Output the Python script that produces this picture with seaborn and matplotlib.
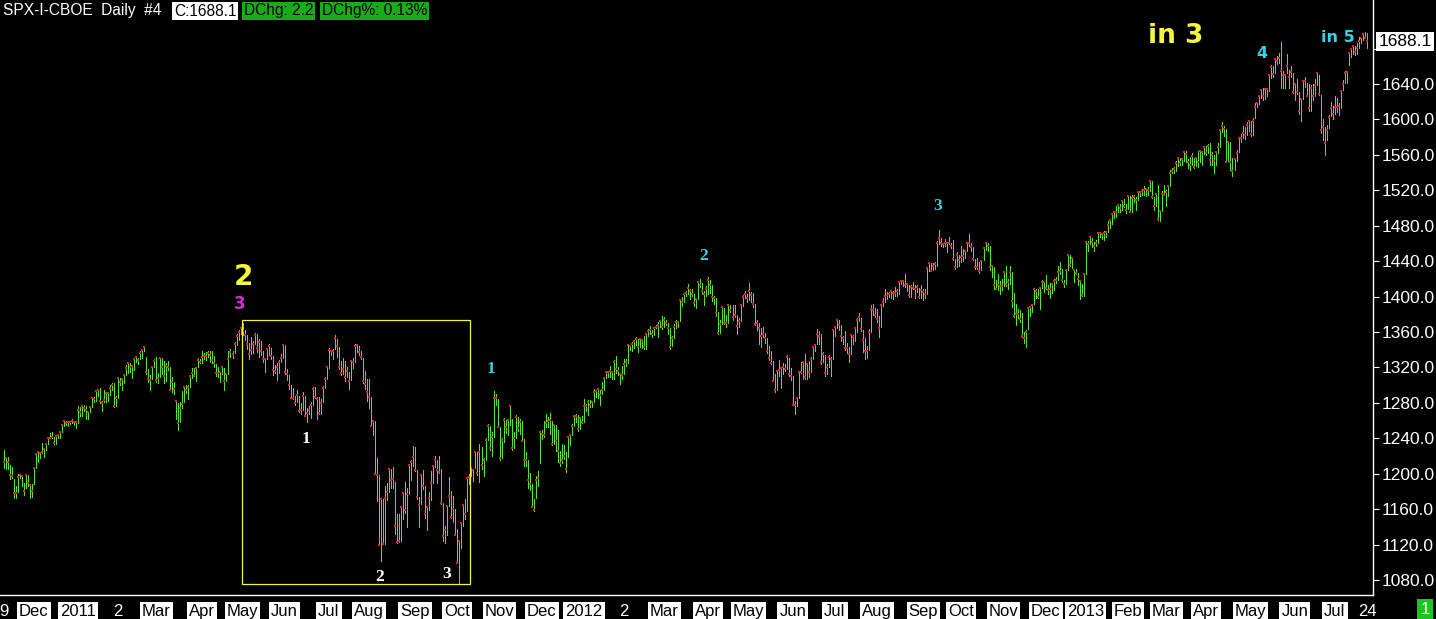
import numpy as np
import pandas as pd
import matplotlib
matplotlib.use("Agg")
import matplotlib.pyplot as plt
import seaborn as sns
from matplotlib.patches import Rectangle

# ---------------- data (SPX daily, Nov 9 2010 - Jul 24 2013), one list per month ----------------
month_labels = ["9", "Dec", "2011", "2", "Mar", "Apr", "May", "Jun", "Jul", "Aug", "Sep", "Oct", "Nov", "Dec",
                "2012", "2", "Mar", "Apr", "May", "Jun", "Jul", "Aug", "Sep", "Oct", "Nov", "Dec",
                "2013", "Feb", "Mar", "Apr", "May", "Jun", "Jul"]
last_label = "24"

close_m = [
    [1213,1218,1213,1199,1197,1178,1178,1196,1199,1197,1180,1198,1189,1187,1181],
    [1206,1222,1225,1223,1224,1228,1233,1240,1240,1242,1235,1243,1244,1247,1255,1259,1257,1258,1258,1260,1258,1258],
    [1272,1270,1277,1274,1272,1270,1275,1286,1284,1293,1295,1282,1280,1283,1291,1291,1297,1300,1276,1286],
    [1308,1304,1307,1311,1319,1325,1321,1322,1329,1332,1328,1336,1340,1343,1315,1307,1306,1320,1327],
    [1306,1308,1331,1321,1310,1322,1320,1295,1304,1296,1282,1257,1274,1279,1298,1294,1298,1310,1314,1310,1319,1328,1326],
    [1332,1333,1333,1336,1334,1328,1325,1314,1314,1315,1320,1305,1313,1330,1337,1335,1347,1356,1360,1364],
    [1361,1357,1347,1335,1340,1346,1357,1342,1349,1338,1330,1329,1341,1344,1333,1317,1316,1321,1326,1331,1345],
    [1315,1313,1300,1286,1285,1280,1289,1271,1272,1288,1265,1268,1272,1278,1296,1287,1284,1269,1280,1297,1307,1321],
    [1340,1338,1339,1353,1344,1320,1314,1318,1309,1316,1305,1327,1326,1344,1345,1337,1332,1305,1301,1292],
    [1287,1254,1260,1200,1199,1120,1172,1121,1173,1179,1205,1193,1194,1141,1123,1124,1162,1178,1159,1177,1210,1213,1219],
    [1204,1174,1165,1199,1186,1154,1162,1173,1189,1209,1216,1204,1202,1167,1130,1136,1163,1175,1151,1160,1131],
    [1099,1124,1144,1165,1155,1195,1196,1207,1204,1225,1201,1225,1210,1215,1238,1254,1229,1242,1285,1285,1253],
    [1218,1238,1261,1253,1261,1276,1229,1240,1264,1252,1258,1237,1216,1216,1193,1188,1162,1159,1193,1195,1247],
    [1245,1244,1257,1259,1261,1234,1255,1237,1226,1212,1216,1220,1205,1241,1244,1254,1265,1265,1250,1263,1258],
    [1277,1277,1281,1278,1281,1292,1293,1296,1289,1294,1308,1315,1315,1316,1315,1326,1318,1316,1313,1312],
    [1324,1326,1345,1344,1347,1350,1352,1343,1352,1351,1343,1358,1361,1362,1358,1364,1366,1368,1372,1366],
    [1374,1370,1364,1343,1353,1366,1371,1371,1396,1394,1403,1404,1410,1406,1403,1393,1397,1417,1413,1406,1403,1409],
    [1419,1413,1399,1398,1382,1359,1369,1388,1370,1370,1391,1385,1377,1379,1367,1372,1391,1400,1403,1398],
    [1406,1402,1392,1369,1370,1364,1355,1358,1353,1338,1331,1325,1305,1295,1316,1317,1319,1321,1318,1332,1313,1310],
    [1278,1278,1286,1315,1315,1326,1309,1324,1315,1329,1343,1345,1358,1356,1326,1335,1314,1320,1332,1329,1362],
    [1366,1374,1368,1355,1353,1342,1342,1335,1357,1354,1364,1373,1377,1363,1351,1338,1338,1360,1386,1385,1379],
    [1375,1365,1391,1394,1401,1402,1403,1406,1404,1404,1406,1416,1418,1418,1413,1414,1402,1411,1410,1409,1411,1400,1407],
    [1405,1403,1432,1438,1429,1434,1437,1460,1466,1461,1459,1461,1460,1460,1457,1442,1433,1447,1441],
    [1445,1446,1451,1461,1461,1456,1442,1433,1433,1429,1440,1455,1461,1457,1433,1434,1413,1409,1413,1412,1412],
    [1428,1414,1417,1428,1395,1378,1380,1380,1375,1356,1353,1360,1387,1388,1391,1409,1406,1399,1410,1416,1416],
    [1410,1407,1409,1414,1418,1419,1428,1429,1419,1414,1430,1447,1436,1444,1430,1427,1420,1418,1402,1426],
    [1462,1459,1467,1462,1457,1461,1472,1472,1471,1472,1473,1481,1486,1493,1495,1495,1503,1500,1508,1502,1498],
    [1513,1496,1511,1512,1509,1518,1518,1519,1520,1521,1520,1531,1512,1502,1516,1488,1497,1516,1515],
    [1518,1525,1540,1542,1544,1551,1556,1552,1555,1563,1561,1552,1548,1559,1546,1557,1552,1564,1563,1569],
    [1562,1570,1554,1560,1553,1563,1569,1588,1593,1589,1552,1575,1552,1542,1555,1562,1579,1579,1585,1582,1594,1598],
    [1583,1598,1614,1618,1626,1633,1627,1634,1634,1650,1659,1651,1668,1666,1669,1655,1650,1650,1660,1648,1654,1631],
    [1640,1631,1609,1623,1643,1643,1626,1613,1636,1627,1639,1652,1629,1588,1592,1573,1588,1603,1613,1606],
    [1614,1614,1615,1632,1640,1652,1653,1675,1680,1683,1676,1681,1689,1692,1696,1692,1688.1],
]

high_m = [
    [1227,1219,1219,1210,1208,1194,1186,1200,1200,1199,1190,1198,1198,1188,1188],
    [1207,1222,1225,1225,1235,1229,1234,1241,1246,1247,1242,1244,1245,1248,1255,1259,1260,1258,1260,1262,1260,1260],
    [1276,1275,1278,1278,1276,1271,1277,1287,1287,1294,1296,1297,1282,1294,1291,1292,1300,1302,1302,1288],
    [1308,1308,1308,1311,1323,1325,1325,1322,1330,1333,1331,1338,1341,1344,1332,1318,1311,1320,1330],
    [1332,1314,1332,1331,1327,1325,1327,1320,1309,1304,1282,1280,1281,1293,1299,1300,1300,1311,1319,1319,1320,1331,1330],
    [1338,1336,1337,1339,1338,1339,1333,1324,1321,1316,1321,1319,1314,1338,1341,1338,1349,1358,1362,1365],
    [1370,1362,1357,1348,1354,1350,1359,1358,1352,1350,1339,1330,1341,1347,1342,1333,1323,1325,1328,1335,1345],
    [1345,1318,1312,1300,1297,1288,1294,1288,1280,1292,1288,1274,1277,1281,1298,1298,1287,1287,1284,1299,1309,1321],
    [1342,1340,1341,1357,1352,1343,1327,1331,1327,1320,1315,1328,1331,1347,1347,1344,1339,1331,1316,1307],
    [1307,1287,1261,1260,1218,1199,1173,1172,1186,1190,1205,1205,1208,1191,1154,1154,1162,1179,1191,1184,1211,1215,1231],
    [1230,1204,1174,1199,1204,1186,1163,1179,1203,1209,1220,1216,1220,1205,1167,1141,1164,1196,1180,1175,1160],
    [1138,1125,1146,1165,1171,1195,1200,1208,1205,1225,1224,1233,1230,1218,1240,1256,1254,1247,1293,1290,1284],
    [1253,1240,1263,1261,1262,1277,1262,1247,1266,1264,1262,1259,1239,1225,1215,1201,1188,1172,1197,1203,1247],
    [1249,1260,1267,1264,1268,1260,1256,1255,1249,1226,1234,1232,1224,1242,1245,1256,1265,1267,1266,1264,1265],
    [1284,1279,1283,1283,1282,1296,1294,1297,1295,1303,1308,1316,1316,1322,1315,1328,1333,1320,1314,1322],
    [1330,1330,1346,1345,1349,1351,1354,1352,1352,1351,1356,1359,1363,1367,1362,1364,1368,1371,1373,1378],
    [1377,1374,1370,1364,1355,1369,1374,1372,1396,1400,1403,1406,1414,1409,1408,1403,1398,1417,1420,1415,1406,1412],
    [1422,1419,1413,1401,1398,1383,1374,1388,1387,1379,1392,1391,1390,1390,1379,1376,1391,1402,1406,1403],
    [1415,1405,1404,1392,1373,1370,1365,1366,1359,1353,1344,1339,1327,1313,1316,1328,1320,1325,1324,1334,1331,1319],
    [1310,1282,1287,1315,1326,1326,1335,1324,1327,1332,1343,1346,1363,1361,1358,1337,1334,1324,1334,1332,1363],
    [1366,1374,1373,1368,1355,1361,1348,1343,1358,1357,1366,1376,1381,1376,1362,1353,1344,1363,1390,1392,1387],
    [1386,1378,1392,1398,1408,1405,1405,1406,1406,1411,1408,1416,1419,1418,1426,1415,1413,1413,1416,1413,1413,1410,1413],
    [1409,1408,1433,1438,1438,1438,1439,1463,1475,1466,1461,1465,1461,1467,1460,1464,1442,1450,1447],
    [1457,1454,1452,1462,1471,1460,1456,1442,1443,1439,1441,1455,1462,1461,1457,1435,1433,1419,1425,1418,1420],
    [1429,1434,1420,1434,1428,1404,1392,1386,1385,1381,1360,1362,1387,1389,1391,1409,1409,1409,1410,1419,1418],
    [1424,1413,1415,1415,1420,1422,1435,1439,1431,1419,1430,1448,1447,1444,1430,1431,1427,1419,1414,1427],
    [1463,1463,1467,1466,1462,1464,1472,1473,1472,1474,1474,1485,1486,1493,1496,1502,1503,1504,1509,1510,1504],
    [1514,1513,1515,1515,1512,1518,1518,1522,1525,1523,1524,1531,1530,1512,1516,1526,1498,1519,1526],
    [1520,1525,1543,1545,1546,1553,1556,1557,1556,1564,1564,1555,1558,1562,1556,1558,1564,1564,1564,1570],
    [1570,1572,1573,1563,1560,1563,1573,1589,1597,1593,1589,1575,1575,1556,1555,1565,1579,1584,1593,1592,1597,1598],
    [1598,1602,1619,1619,1626,1633,1635,1634,1636,1651,1661,1660,1668,1672,1675,1687,1655,1651,1674,1656,1660,1652],
    [1640,1646,1631,1623,1644,1648,1641,1640,1639,1640,1646,1654,1650,1628,1601,1592,1594,1605,1620,1615],
    [1626,1624,1619,1633,1645,1655,1655,1676,1681,1684,1683,1686,1693,1693,1697,1699,1698],
]

low_m = [
    [1206,1205,1205,1194,1195,1173,1173,1179,1195,1186,1176,1184,1186,1173,1174],
    [1188,1206,1213,1218,1223,1219,1227,1233,1240,1240,1234,1234,1240,1240,1247,1254,1255,1254,1256,1257,1255,1252],
    [1257,1265,1265,1271,1262,1262,1270,1275,1281,1282,1288,1280,1271,1281,1281,1282,1289,1294,1275,1276],
    [1286,1300,1295,1302,1311,1314,1315,1308,1317,1326,1324,1329,1331,1338,1313,1303,1294,1307,1320],
    [1303,1302,1309,1313,1302,1305,1317,1294,1292,1290,1262,1249,1258,1274,1281,1291,1284,1298,1308,1310,1305,1320,1325],
    [1325,1329,1328,1332,1326,1325,1321,1310,1309,1303,1313,1295,1305,1313,1332,1331,1336,1345,1351,1358],
    [1357,1351,1341,1330,1335,1336,1346,1337,1332,1334,1326,1315,1330,1334,1330,1311,1314,1306,1314,1326,1331],
    [1313,1306,1296,1285,1284,1278,1281,1270,1267,1272,1265,1258,1267,1263,1278,1286,1262,1267,1267,1281,1297,1307],
    [1319,1334,1330,1341,1332,1318,1312,1313,1305,1309,1296,1306,1319,1326,1337,1334,1329,1302,1296,1282],
    [1274,1254,1244,1200,1169,1119,1101,1121,1121,1170,1179,1184,1184,1132,1122,1123,1124,1149,1156,1140,1177,1193,1209],
    [1203,1171,1140,1166,1183,1150,1136,1159,1170,1190,1208,1190,1201,1166,1124,1122,1131,1163,1150,1145,1131],
    [1099,1075,1116,1141,1149,1158,1188,1197,1192,1207,1198,1191,1205,1197,1216,1238,1227,1220,1242,1278,1253],
    [1215,1218,1236,1246,1244,1255,1227,1229,1240,1248,1245,1237,1209,1209,1184,1182,1162,1158,1173,1186,1212],
    [1239,1242,1253,1253,1245,1232,1234,1226,1213,1209,1212,1217,1202,1219,1232,1244,1254,1258,1248,1250,1257],
    [1258,1271,1266,1275,1275,1281,1287,1286,1278,1290,1294,1308,1309,1309,1307,1307,1314,1311,1301,1307],
    [1313,1322,1325,1340,1339,1342,1345,1337,1343,1342,1341,1341,1356,1358,1354,1357,1364,1354,1366,1363],
    [1366,1368,1358,1341,1344,1353,1364,1366,1372,1389,1394,1401,1403,1397,1401,1389,1387,1397,1411,1403,1391,1401],
    [1403,1404,1395,1392,1378,1358,1359,1369,1369,1366,1370,1383,1373,1377,1358,1366,1372,1389,1398,1394],
    [1396,1394,1388,1368,1362,1347,1343,1354,1348,1336,1328,1324,1305,1292,1295,1310,1297,1313,1316,1318,1310,1306],
    [1278,1267,1277,1286,1314,1307,1307,1307,1309,1315,1329,1338,1346,1347,1324,1326,1310,1313,1320,1310,1330],
    [1356,1365,1362,1350,1346,1340,1336,1326,1335,1346,1350,1360,1372,1361,1337,1330,1331,1340,1360,1379,1377],
    [1371,1354,1366,1389,1394,1397,1400,1398,1397,1401,1401,1403,1414,1412,1411,1406,1399,1400,1409,1398,1405,1398,1398],
    [1396,1398,1403,1429,1429,1430,1431,1435,1459,1457,1456,1457,1450,1459,1455,1441,1431,1433,1435],
    [1439,1440,1444,1451,1457,1452,1441,1431,1431,1427,1430,1441,1453,1451,1430,1422,1409,1408,1407,1403,1407],
    [1412,1412,1408,1414,1388,1377,1368,1376,1371,1354,1348,1343,1363,1378,1383,1392,1398,1398,1386,1410,1405],
    [1408,1403,1398,1404,1407,1415,1419,1426,1416,1411,1414,1430,1435,1432,1416,1425,1413,1397,1401,1401],
    [1426,1452,1459,1456,1452,1457,1461,1467,1465,1464,1467,1473,1477,1482,1489,1490,1495,1496,1498,1501,1494],
    [1499,1495,1496,1507,1498,1509,1513,1515,1515,1514,1515,1519,1511,1498,1502,1487,1485,1497,1515],
    [1502,1513,1525,1540,1539,1542,1547,1549,1548,1553,1552,1545,1543,1549,1545,1547,1546,1552,1549,1561],
    [1560,1562,1549,1548,1539,1549,1562,1569,1586,1581,1552,1553,1543,1536,1543,1553,1563,1575,1579,1578,1582,1587],
    [1581,1582,1602,1614,1617,1624,1622,1623,1626,1632,1647,1648,1652,1663,1664,1635,1635,1636,1652,1636,1648,1630],
    [1622,1629,1606,1598,1623,1637,1626,1610,1609,1622,1627,1639,1628,1585,1577,1560,1577,1590,1604,1601],
    [1606,1608,1605,1613,1633,1641,1641,1661,1670,1674,1673,1674,1681,1686,1690,1692,1681],
]

# ---------------- assemble ----------------
for k, (c, h, l) in enumerate(zip(close_m, high_m, low_m)):
    if not (len(c) == len(h) == len(l)):
        raise ValueError(f"month {k} ({month_labels[k]}): {len(c)} {len(h)} {len(l)}")

close = np.concatenate([np.asarray(m, float) for m in close_m])
high = np.concatenate([np.asarray(m, float) for m in high_m])
low = np.concatenate([np.asarray(m, float) for m in low_m])
n = len(close)
idx = np.arange(n)
month_starts = np.cumsum([0] + [len(m) for m in close_m[:-1]])
df = pd.DataFrame({"i": idx, "close": close, "high": high, "low": low})

# ---------------- style ----------------
sns.set_theme(style="dark", rc={
    "axes.facecolor": "black", "figure.facecolor": "black",
    "axes.edgecolor": "white", "axes.grid": False,
    "xtick.color": "white", "ytick.color": "white",
    "text.color": "white",
})
plt.rcParams["font.family"] = ["Liberation Sans", "DejaVu Sans"]

W, H = 1436, 619
fig = plt.figure(figsize=(W / 100, H / 100), dpi=100)
ax = fig.add_axes([0, 24 / H, 1373 / W, 595 / H])
ax.set_facecolor("black")

GREEN = "#52E23C"
RED = "#DA2A1A"
CYAN = "#36D3E3"
YELLOW = "#F5F53C"

ax.vlines(df["i"], df["low"], df["high"], color=GREEN, linewidth=0.55,
          antialiased=False, zorder=2)
sns.scatterplot(data=df, x="i", y="close", marker="s", s=3.0, color=RED,
                linewidth=0, ax=ax, zorder=3, legend=False)

ax.set_xlim(-1.79, 681.97)
ax.set_ylim(1063.06, 1734.85)

# spines
for s in ["left", "top"]:
    ax.spines[s].set_visible(False)
for s in ["right", "bottom"]:
    ax.spines[s].set_visible(True)
    ax.spines[s].set_color("white")
    ax.spines[s].set_linewidth(1.0)

# y axis on right (the 1680 label sits under the last-price box, so it is left blank)
ax.yaxis.tick_right()
yt = np.arange(1080, 1681, 40)
ax.set_yticks(yt)
ax.set_yticklabels([f"{v:.1f}" if v < 1680 else "" for v in yt])
ax.tick_params(axis="y", which="major", direction="out", length=4, width=0.8,
               colors="white", labelsize=12.5, pad=2, left=False, right=True)
ax.set_ylabel("")

# x axis: month ticks
xt = list(month_starts) + [n - 1]
xl = month_labels + [last_label]
ax.set_xticks(xt)
ax.set_xticklabels(xl)
ax.tick_params(axis="x", direction="out", length=4, width=0.8, colors="white",
               labelsize=12, pad=2.5)
ax.set_xlabel("")
for lab in ax.get_xticklabels():
    if len(lab.get_text()) >= 3:
        lab.set_color("black")
        lab.set_bbox(dict(boxstyle="square,pad=0.12", facecolor="white", edgecolor="none"))
    else:
        lab.set_color("white")

# last price box on the right axis
ax.text(1.004, close[-1], f"{close[-1]:.1f}", transform=ax.get_yaxis_transform(),
        ha="left", va="center", fontsize=12.5, color="black", zorder=10, clip_on=False,
        bbox=dict(boxstyle="square,pad=0.12", facecolor="white", edgecolor="none"))

# wave annotations
ax.add_patch(Rectangle((118.7, 1075.5), 232.3 - 118.7, 1373.6 - 1075.5, fill=False,
                       edgecolor=YELLOW, linewidth=0.9, zorder=4))
ax.text(119.2, 1422, "2", color=YELLOW, fontsize=20, fontweight="bold",
        ha="center", va="center", family=["DejaVu Sans"])
ax.text(117.7, 1391.6, "3", color="#D230D2", fontsize=12, fontweight="bold",
        ha="center", va="center", family=["DejaVu Sans"])
serif = ["Liberation Serif", "DejaVu Serif"]
for xi, yv, t in [(150.6, 1239.2, "1"), (187.5, 1083.4, "2"), (220.8, 1086.8, "3")]:
    ax.text(xi, yv, t, color="white", fontsize=12.5, fontweight="bold",
            ha="center", va="center", family=serif)
for xi, yv, t in [(242.7, 1318.2, "1"), (348.8, 1445.8, "2"), (465.3, 1502.3, "3")]:
    ax.text(xi, yv, t, color=CYAN, fontsize=12.5, fontweight="bold",
            ha="center", va="center", family=serif)
ax.text(626.7, 1673.9, "4", color=CYAN, fontsize=11.5, fontweight="bold",
        ha="center", va="center", family=["DejaVu Sans"])
ax.text(664.5, 1692.0, "in 5", color=CYAN, fontsize=11.5, fontweight="bold",
        ha="center", va="center", family=["DejaVu Sans"])
ax.text(583.9, 1694.2, "in 3", color=YELLOW, fontsize=19, fontweight="bold",
        ha="center", va="center", family=["DejaVu Sans"])

# header
def fx(x):
    return x / W

def fy(y):
    return 1 - y / H

fig.text(fx(3), fy(11), "SPX-I-CBOE  Daily  #4", color="white", fontsize=11.2,
         ha="left", va="center")
fig.text(fx(174), fy(11), "C:1688.1", color="black", fontsize=11.2, ha="left", va="center",
         bbox=dict(boxstyle="square,pad=0.1", facecolor="white", edgecolor="none"))
fig.text(fx(244), fy(11), "DChg: 2.2", color="black", fontsize=11.2, ha="left", va="center",
         bbox=dict(boxstyle="square,pad=0.1", facecolor="#18AD18", edgecolor="none"))
fig.text(fx(322), fy(11), "DChg%: 0.13%", color="black", fontsize=11.2, ha="left", va="center",
         bbox=dict(boxstyle="square,pad=0.1", facecolor="#18AD18", edgecolor="none"))
fig.text(fx(1425), fy(610), "1", color="white", fontsize=12, ha="center", va="center",
         bbox=dict(boxstyle="square,pad=0.2", facecolor="#1FC21F", edgecolor="none"))

fig.savefig("out.png", dpi=100, facecolor="black")
